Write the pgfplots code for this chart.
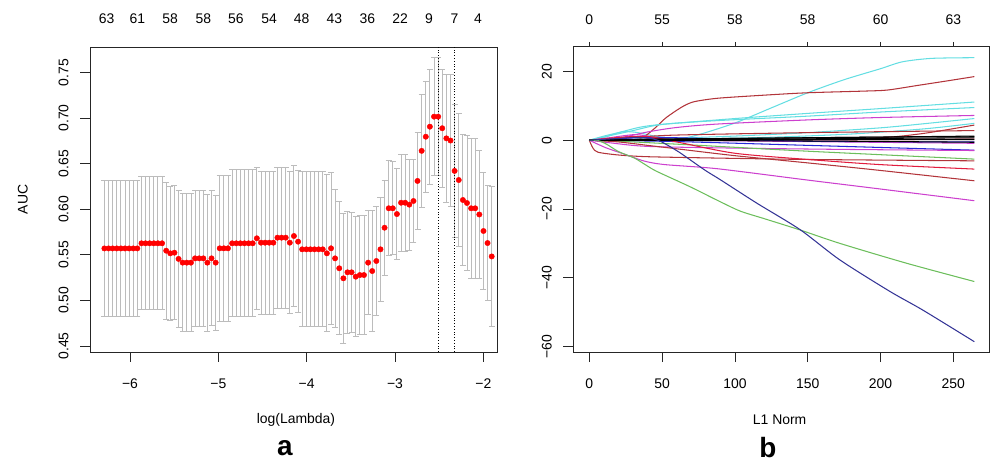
\documentclass[border=0pt]{standalone}
\usepackage{pgfplots}
\pgfplotsset{compat=1.18}
\usepackage{pgfplotstable}
\usepackage{fontspec}
\setmainfont{Liberation Sans}
\definecolor{barc}{RGB}{188,188,188}
\definecolor{cy}{RGB}{100,222,226}
\definecolor{dr}{RGB}{178,52,58}
\definecolor{rd}{RGB}{226,28,62}
\definecolor{mg}{RGB}{204,64,206}
\definecolor{gr}{RGB}{108,190,92}
\definecolor{nv}{RGB}{52,52,150}
\definecolor{bl}{RGB}{40,40,215}

\pgfplotstableread{
x m se
-6.290 0.5570 0.0745
-6.243 0.5570 0.0745
-6.197 0.5570 0.0745
-6.150 0.5570 0.0745
-6.103 0.5570 0.0745
-6.057 0.5570 0.0745
-6.010 0.5570 0.0745
-5.963 0.5570 0.0745
-5.917 0.5570 0.0745
-5.870 0.5626 0.0730
-5.824 0.5626 0.0730
-5.777 0.5626 0.0730
-5.730 0.5626 0.0730
-5.684 0.5626 0.0730
-5.637 0.5626 0.0730
-5.590 0.5545 0.0750
-5.544 0.5516 0.0735
-5.497 0.5523 0.0735
-5.450 0.5455 0.0750
-5.404 0.5414 0.0755
-5.357 0.5414 0.0755
-5.310 0.5414 0.0755
-5.264 0.5461 0.0745
-5.217 0.5461 0.0745
-5.170 0.5461 0.0745
-5.124 0.5414 0.0750
-5.077 0.5461 0.0740
-5.030 0.5414 0.0740
-4.984 0.5571 0.0800
-4.937 0.5571 0.0800
-4.891 0.5571 0.0800
-4.844 0.5626 0.0805
-4.797 0.5626 0.0805
-4.751 0.5626 0.0805
-4.704 0.5626 0.0805
-4.657 0.5626 0.0805
-4.611 0.5626 0.0805
-4.564 0.5681 0.0775
-4.517 0.5633 0.0785
-4.471 0.5633 0.0785
-4.424 0.5633 0.0785
-4.377 0.5633 0.0785
-4.331 0.5688 0.0775
-4.284 0.5688 0.0775
-4.237 0.5688 0.0775
-4.191 0.5633 0.0780
-4.144 0.5706 0.0775
-4.097 0.5644 0.0780
-4.051 0.5560 0.0850
-4.004 0.5560 0.0850
-3.958 0.5560 0.0850
-3.911 0.5560 0.0850
-3.864 0.5560 0.0850
-3.818 0.5560 0.0850
-3.771 0.5516 0.0860
-3.724 0.5571 0.0830
-3.678 0.5461 0.0760
-3.631 0.5352 0.0730
-3.584 0.5242 0.0710
-3.538 0.5308 0.0670
-3.491 0.5308 0.0660
-3.444 0.5260 0.0660
-3.398 0.5278 0.0650
-3.351 0.5278 0.0650
-3.304 0.5414 0.0570
-3.258 0.5322 0.0660
-3.211 0.5432 0.0600
-3.164 0.5560 0.0570
-3.118 0.5797 0.0520
-3.071 0.6010 0.0520
-3.025 0.6010 0.0510
-2.978 0.5947 0.0500
-2.931 0.6071 0.0535
-2.885 0.6071 0.0535
-2.838 0.6050 0.0500
-2.791 0.6090 0.0460
-2.745 0.6310 0.0530
-2.698 0.6640 0.0620
-2.651 0.6795 0.0610
-2.605 0.6905 0.0630
-2.558 0.7015 0.0650
-2.511 0.7015 0.0650
-2.465 0.6888 0.0650
-2.418 0.6777 0.0700
-2.371 0.6753 0.0720
-2.325 0.6420 0.0730
-2.278 0.6320 0.0730
-2.231 0.6101 0.0720
-2.185 0.6068 0.0740
-2.138 0.6010 0.0765
-2.092 0.6010 0.0765
-2.045 0.5942 0.0700
-1.998 0.5761 0.0640
-1.952 0.5629 0.0635
-1.905 0.5482 0.0770
}\cvdata

\pgfplotsset{
  rstyle/.style={
    scale only axis,
    anchor=south west,
    tick align=outside,
    major tick length=10bp,
    tick style={black!85, line width=0.8bp},
    axis line style={black!85, line width=0.8bp},
    tick label style={font=\fontsize{14}{16}\selectfont},
    label style={font=\fontsize{14}{16}\selectfont},
    xtick pos=bottom, ytick pos=left,
    yticklabel style={xshift=-8bp, rotate=90, anchor=south},
    xticklabel style={yshift=-13bp},
    /pgf/number format/assume math mode=true,
    clip=true,
  },
  topstyle/.style={
    scale only axis,
    anchor=south west,
    axis x line*=top,
    axis y line=none,
    axis line style={draw=none},
    tick align=outside,
    tick style={black!85, line width=0.8bp},
    tick label style={font=\fontsize{14}{16}\selectfont},
  },
}

\begin{document}
\begin{tikzpicture}
\useasboundingbox (0,0) rectangle (990bp,467bp);

% ---------------- Panel a ----------------
\begin{axis}[rstyle,
  at={(90bp,115bp)}, width=407bp, height=305bp,
  xmin=-6.453, xmax=-1.845, ymin=0.4434, ymax=0.7779,
  xtick={-6,-5,-4,-3,-2}, xticklabels={−6,−5,−4,−3,−2},
  ytick={0.45,0.5,0.55,0.6,0.65,0.7,0.75},
  yticklabels={0.45,0.50,0.55,0.60,0.65,0.70,0.75},
  xlabel={log(Lambda)}, ylabel={AUC},
  xlabel style={at={(axis description cs:0.506,-0.222)}, anchor=center},
  ylabel style={at={(axis description cs:-0.165,0.5)}, anchor=center, rotate=0},
]
\addplot[draw=none, mark=none, forget plot,
  error bars/.cd, y dir=both, y explicit,
  error bar style={draw=barc, line width=0.9bp},
  error mark options={rotate=90, draw=barc, mark size=3bp, line width=0.9bp}]
  table[x=x, y=m, y error=se] {\cvdata};
\addplot[only marks, mark=*, mark size=2.7bp, color=red, mark options={draw=red, fill=red}]
  table[x=x, y=m] {\cvdata};
\addplot[black, dotted, line width=0.8bp] coordinates {(-2.511,0.4434) (-2.511,0.7779)};
\addplot[black, dotted, line width=0.8bp] coordinates {(-2.325,0.4434) (-2.325,0.7779)};
\end{axis}
\begin{axis}[topstyle,
  at={(90bp,115bp)}, width=407bp, height=305bp,
  xmin=-6.453, xmax=-1.845, ymin=0.4434, ymax=0.7779,
  major tick length=0bp,
  xtick={-6.264,-5.917,-5.547,-5.170,-4.800,-4.426,-4.056,-3.686,-3.313,-2.943,-2.614,-2.327,-2.060},
  xticklabels={63,61,58,58,56,54,48,43,36,22,9,7,4},
  xticklabel style={yshift=20bp},
]
\end{axis}

% ---------------- Panel b ----------------
\begin{axis}[rstyle,
  at={(573.3bp,115bp)}, width=416bp, height=306bp,
  xmin=-11, xmax=274.7, ymin=-61.6, ymax=27.4,
  xtick={0,50,100,150,200,250}, xticklabels={0,50,100,150,200,250},
  ytick={-60,-40,-20,0,20}, yticklabels={−60,−40,−20,0,20},
  xlabel={L1 Norm},
  xlabel style={at={(axis description cs:0.496,-0.221)}, anchor=center},
  every axis plot/.append style={line width=1.05bp, smooth, tension=0.45},
]
% cyan big
\addplot[cy] coordinates {(0,0) (10,0.8) (22,2.4) (32,2.3) (45,1.2) (60,0.3) (75,1.6) (100,5) (125,9.4) (150,13.8) (175,17.6) (200,20.8) (215,22.8) (235,23.8) (264.4,24)};
% dark red rising
\addplot[dr] coordinates {(0,0) (25,-0.2) (36,0.6) (45,3.5) (52,6.3) (58.6,8.3) (65,10) (72,11.2) (88,12.2) (120,13.1) (150,13.8) (190,14.3) (205,14.6) (225,15.9) (245,17.2) (264.4,18.5)};
% cyan 11
\addplot[cy] coordinates {(0,0) (10,1.2) (20,2.2) (35,3.8) (50,4.6) (100,6.3) (150,7.8) (200,9.2) (264.4,11.1)};
% cyan 9.5
\addplot[cy] coordinates {(0,0) (15,1.4) (30,2.8) (50,4.6) (88,5.7) (150,7) (200,8.2) (264.4,9.5)};
% magenta 7.2
\addplot[mg] coordinates {(0,0) (20,0.6) (40,2.4) (60,3.7) (88,4.7) (150,5.9) (200,6.6) (264.4,7.2)};
% cyan 6.3
\addplot[cy] coordinates {(0,0) (50,0.5) (100,1.2) (150,2.2) (200,3.6) (230,4.8) (264.4,6.3)};
% cyan 4.9
\addplot[cy] coordinates {(0,0) (60,0.3) (120,0.8) (180,1.8) (230,3.3) (264.4,4.9)};
% red rising late
\addplot[dr] coordinates {(0,0) (50,0.2) (150,0.2) (200,0.7) (230,2) (264.4,4.4)};
% brown 2.8
\addplot[dr] coordinates {(0,0) (30,0.8) (60,1.5) (150,2.2) (264.4,2.8)};
% pink near zero
\addplot[mg] coordinates {(0,0) (10,0.5) (30,1.6) (40,1.2) (55,0.1) (150,-0.4) (264.4,-0.9)};
\addplot[rd] coordinates {(0,0) (20,0.4) (35,1) (50,0.3) (150,0.1) (264.4,0.3)};
% blue near zero and -2.9
\addplot[bl] coordinates {(0,0) (40,0.8) (80,0.5) (150,-0.3) (264.4,-0.5)};
\addplot[bl] coordinates {(0,0) (60,-0.4) (150,-1.5) (264.4,-2.9)};
% magenta -3
\addplot[mg] coordinates {(0,0) (15,-0.8) (40,-1.8) (100,-2.3) (180,-2.7) (264.4,-3)};
% green -5.5
\addplot[gr] coordinates {(0,0) (30,-0.5) (80,-1.6) (150,-3.2) (264.4,-5.5)};
% dark red hook -6
\addplot[dr] coordinates {(0,0) (2.5,-2.3) (6,-3.5) (20,-4.3) (40,-4.8) (88,-5.2) (150,-5.6) (264.4,-6)};
% red -8.4
\addplot[rd] coordinates {(0,0) (20,0.8) (40,1.1) (60,-0.5) (100,-3.8) (150,-5.6) (200,-7.1) (264.4,-8.4)};
% dark red -11.8
\addplot[dr] coordinates {(0,0) (20,-0.5) (40,-1.5) (60,-2.5) (100,-4.5) (150,-6.6) (200,-8.8) (264.4,-11.8)};
% magenta -17.6
\addplot[mg] coordinates {(0,0) (5,-1) (12,-2.3) (23,-3.9) (38,-6.1) (52,-7.1) (88,-8.3) (150,-11.6) (200,-14.2) (264.4,-17.6)};
% black band
\addplot[black] coordinates {(0,0) (50,0.3) (150,0.7) (264.4,1.2)};
\addplot[black] coordinates {(0,0) (60,0.1) (150,0.4) (264.4,0.7)};
\addplot[black] coordinates {(0,0) (80,-0.1) (180,-0.3) (264.4,-0.6)};
\addplot[black] coordinates {(0,0) (100,0.2) (264.4,0.2)};
\addplot[black] coordinates {(0,0) (70,0.4) (200,0.9) (264.4,1.0)};
% green -41
\addplot[gr] coordinates {(0,0) (6,-0.1) (12,-1.2) (20,-3.3) (31,-5.2) (38,-7) (46,-9) (69,-13.5) (88,-17.5) (103.5,-20.6) (120,-22.8) (144.7,-26.1) (172,-30) (218,-35.8) (264.4,-41.1)};
% navy -58.5
\addplot[nv] coordinates {(0,0) (20,0.5) (35,0.8) (47,0) (61,-3.3) (79,-8.6) (90,-11.5) (115,-18.3) (144.7,-26) (172,-34.8) (206.5,-44) (229,-49.4) (264.4,-58.6)};
\end{axis}
\begin{axis}[topstyle,
  at={(573.3bp,115bp)}, width=416bp, height=306bp,
  xmin=-11, xmax=274.7, ymin=-61.6, ymax=27.4,
  major tick length=4bp,
  xtick={0,50,100,150,200,250},
  xticklabels={0,55,58,58,60,63},
  xticklabel style={yshift=14bp},
]
\end{axis}

\node[font=\bfseries\fontsize{28}{30}\selectfont] at (285bp,19bp) {a};
\node[font=\bfseries\fontsize{28}{30}\selectfont] at (768bp,19bp) {b};
\end{tikzpicture}
\end{document}
